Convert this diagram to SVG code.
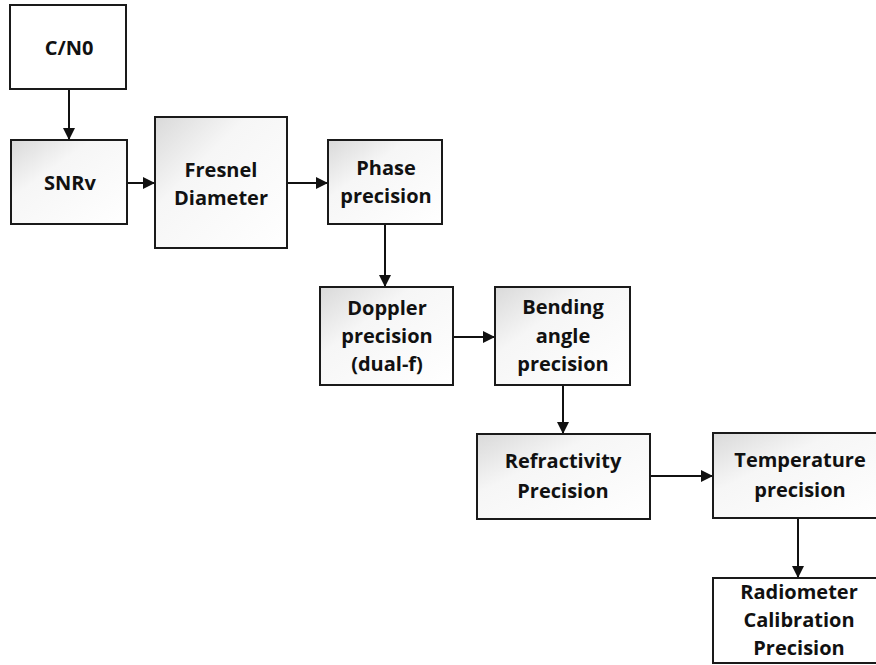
<svg xmlns="http://www.w3.org/2000/svg" width="876" height="665" viewBox="0 0 876 665">
<defs>
<linearGradient id="shade" x1="0" y1="0" x2="1" y2="1">
<stop offset="0" stop-color="#d9d9d9"/>
<stop offset="0.35" stop-color="#f6f6f6"/>
<stop offset="1" stop-color="#ffffff"/>
</linearGradient>
<marker id="arr" markerWidth="12" markerHeight="12" refX="12" refY="6" orient="auto" markerUnits="userSpaceOnUse">
<path d="M0,0 L12,6 L0,12 Z" fill="#111"/>
</marker>
<style>
.box{fill:url(#shade);stroke:#1a1a1a;stroke-width:2}
.plain{fill:#ffffff;stroke:#1a1a1a;stroke-width:2}
.lbl{font-family:"Open Sans","DejaVu Sans",sans-serif;font-weight:700;font-size:20px;fill:#111;text-anchor:middle}
.con{stroke:#111;stroke-width:2;fill:none;marker-end:url(#arr)}
</style>
</defs>
<rect width="876" height="665" fill="#ffffff"/>
<g id="connectors">
<line class="con" x1="69" y1="89" x2="69" y2="140"/>
<line class="con" x1="127" y1="183" x2="155" y2="183"/>
<line class="con" x1="287" y1="183" x2="328" y2="183"/>
<line class="con" x1="385" y1="224" x2="385" y2="287"/>
<line class="con" x1="453" y1="337" x2="495" y2="337"/>
<line class="con" x1="563" y1="385" x2="563" y2="434"/>
<line class="con" x1="650" y1="476" x2="713" y2="476"/>
<line class="con" x1="798" y1="518" x2="798" y2="578"/>
</g>
<g id="cn0">
<rect class="plain" x="10" y="5" width="116" height="84"/>
<text class="lbl" x="69" y="55">C/N0</text>
</g>
<g id="snrv">
<rect class="box" x="11" y="140" width="116" height="84"/>
<text class="lbl" x="70" y="190">SNRv</text>
</g>
<g id="fresnel">
<rect class="box" x="155" y="117" width="132" height="131"/>
<text class="lbl" x="221" y="177">Fresnel</text>
<text class="lbl" x="221" y="205">Diameter</text>
</g>
<g id="phase">
<rect class="box" x="328" y="140" width="114" height="84"/>
<text class="lbl" x="386" y="175">Phase</text>
<text class="lbl" x="386" y="203">precision</text>
</g>
<g id="doppler">
<rect class="box" x="320" y="287" width="133" height="98"/>
<text class="lbl" x="387" y="315">Doppler</text>
<text class="lbl" x="387" y="343">precision</text>
<text class="lbl" x="387" y="371">(dual-f)</text>
</g>
<g id="bending">
<rect class="box" x="495" y="287" width="135" height="98"/>
<text class="lbl" x="563" y="314">Bending</text>
<text class="lbl" x="563" y="343">angle</text>
<text class="lbl" x="563" y="371">precision</text>
</g>
<g id="refractivity">
<rect class="box" x="477" y="434" width="173" height="85"/>
<text class="lbl" x="563" y="468">Refractivity</text>
<text class="lbl" x="563" y="498">Precision</text>
</g>
<g id="temperature">
<rect class="box" x="713" y="433" width="174" height="85"/>
<text class="lbl" x="800" y="467">Temperature</text>
<text class="lbl" x="800" y="497">precision</text>
</g>
<g id="radiometer">
<rect class="plain" x="713" y="578" width="174" height="85"/>
<text class="lbl" x="799" y="599">Radiometer</text>
<text class="lbl" x="799" y="627">Calibration</text>
<text class="lbl" x="799" y="655">Precision</text>
</g>
</svg>
